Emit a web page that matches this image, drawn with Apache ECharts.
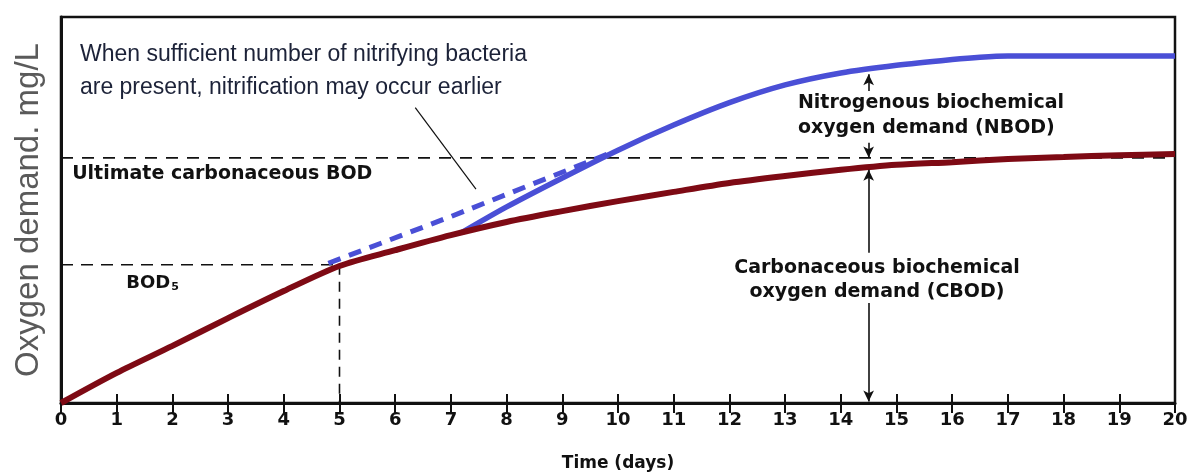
<!DOCTYPE html>
<html>
<head>
<meta charset="utf-8">
<script src="https://cdn.jsdelivr.net/npm/echarts@6/dist/echarts.min.js"></script>
<style>
  html, body { margin: 0; padding: 0; background: #fff; }
  #chart { width: 1187px; height: 472px; }
</style>
</head>
<body>
<div id="chart"></div>
<script>
// Time axis (days) and its tick labels
const days = [0, 1, 2, 3, 4, 5, 6, 7, 8, 9, 10, 11, 12, 13, 14, 15, 16, 17, 18, 19, 20];
const tickLabels = days.map(String);

// Carbonaceous BOD exerted over time (relative oxygen demand)
const cbodValues = [0, 7.8, 14.8, 22.0, 29.0, 35.5, 39.6, 43.5, 46.9, 49.7, 52.3,
                    54.7, 57.0, 58.8, 60.4, 61.7, 62.4, 63.2, 63.7, 64.2, 64.5];

// Total (carbonaceous + nitrogenous) demand once nitrification starts
const nbodDays   = [7.2, 8, 9, 10, 11, 12, 13, 14, 15, 16, 16.5, 17, 18, 19, 20];
const nbodValues = [44.2, 50.8, 58.3, 65.5, 72.0, 77.8, 82.4, 85.5, 87.5, 89.0, 89.6, 89.9, 89.9, 89.9, 89.9];

// Early nitrification path (dashed)
const earlyDays   = [4.8, 7, 9.8];
const earlyValues = [36.2, 48.3, 64.4];

// Reference levels
const ultimateCBOD = 63.5;
const bod5Day = 5;
const bod5Value = 35.8;

const pairs = (xs, ys) => xs.map((x, i) => [x, ys[i]]);

const chart = echarts.init(document.getElementById('chart'), null, { renderer: 'canvas' });

const labelFont = 'DejaVu Sans';
const black = '#111';

const option = {
  animation: false,
  backgroundColor: '#fff',
  grid: {
    left: 61, right: 12, top: 17, bottom: 69,
    containLabel: false, outerBoundsMode: 'none',
    show: true, borderColor: black, borderWidth: 2.5, backgroundColor: 'transparent'
  },
  xAxis: [{
    type: 'value', min: 0, max: 20, interval: 1,
    axisLine: { show: true, onZero: false, lineStyle: { color: black, width: 3 } },
    axisTick: { show: true, inside: true, length: 9, lineStyle: { color: black, width: 2 } },
    axisLabel: {
      margin: 8, fontFamily: labelFont, fontWeight: 'bold', fontSize: 18, color: black,
      formatter: v => tickLabels[v] ?? ''
    },
    splitLine: { show: false },
    name: 'Time (days)', nameLocation: 'middle', nameGap: 52,
    nameTextStyle: { fontFamily: labelFont, fontWeight: 'bold', fontSize: 17, color: black }
  }, {
    type: 'value', min: 0, max: 20, interval: 1, position: 'top',
    axisLine: { show: false },
    axisTick: { show: true, inside: true, length: 10, lineStyle: { color: black, width: 2 } },
    axisLabel: { show: false },
    splitLine: { show: false }
  }],
  yAxis: {
    type: 'value', min: 0, max: 100,
    axisLine: { show: true, lineStyle: { color: black, width: 3 } },
    axisTick: { show: false },
    axisLabel: { show: false },
    splitLine: { show: false },
    name: 'Oxygen demand. mg/L', nameLocation: 'middle', nameGap: 16,
    nameTextStyle: { fontFamily: 'Liberation Sans', fontSize: 33, color: '#5a5a5a' }
  },
  series: [
    {
      name: 'Ultimate carbonaceous BOD', type: 'line', silent: true, symbol: 'none',
      data: [[0, ultimateCBOD], [20, ultimateCBOD]],
      lineStyle: { color: black, width: 1.6, type: [12, 9] }, z: 1
    },
    {
      name: 'BOD5 level', type: 'line', silent: true, symbol: 'none',
      data: [[0, bod5Value], [bod5Day, bod5Value]],
      lineStyle: { color: black, width: 1.6, type: [12, 8] }, z: 1
    },
    {
      name: 'BOD5 day', type: 'line', silent: true, symbol: 'none',
      data: [[bod5Day, bod5Value], [bod5Day, 0]],
      lineStyle: { color: black, width: 1.6, type: [10, 7] }, z: 1
    },
    {
      name: 'Early nitrification', type: 'line', silent: true, symbol: 'none',
      data: pairs(earlyDays, earlyValues),
      lineStyle: { color: '#4a4fd6', width: 5, type: [13, 9] }, z: 3
    },
    {
      name: 'NBOD', type: 'line', silent: true, symbol: 'none', smooth: 0.3,
      data: pairs(nbodDays, nbodValues),
      lineStyle: { color: '#4a4fd6', width: 5.5 }, z: 3
    },
    {
      name: 'CBOD', type: 'line', silent: true, symbol: 'none', smooth: 0.3,
      data: pairs(days, cbodValues),
      lineStyle: { color: '#7e0a14', width: 6 }, z: 4
    },
    {
      name: 'Leader', type: 'line', silent: true, symbol: 'none',
      data: [[6.36, 76.5], [7.45, 55.4]],
      lineStyle: { color: black, width: 1.2 }, z: 2
    },
    {
      name: 'Demand arrows', type: 'line', silent: true, symbol: 'none', data: [],
      markLine: {
        silent: true, symbol: ['none', 'arrow'], symbolSize: [8, 11],
        label: { show: false },
        lineStyle: { color: black, width: 1.6, type: 'solid' },
        data: [
          [{ coord: [14.5, 80.8] }, { coord: [14.5, 85.2] }],
          [{ coord: [14.5, 67.4] }, { coord: [14.5, 63.6] }],
          [{ coord: [14.5, 38.9] }, { coord: [14.5, 60.4] }],
          [{ coord: [14.5, 25.9] }, { coord: [14.5, 0.4] }]
        ]
      }
    }
  ]
};

chart.setOption(option);

// Annotations anchored in data coordinates
function at(x, y) { return chart.convertToPixel({ xAxisIndex: 0, yAxisIndex: 0 }, [x, y]); }

const annoStyle = { fontFamily: labelFont, fontWeight: 'bold', fontSize: 19, fill: black };
const noteStyle = { fontFamily: 'Liberation Sans', fontSize: 23, fill: '#1c2238' };

function textEl(text, pos, style, align) {
  return {
    type: 'text', x: pos[0], y: pos[1], silent: true,
    style: Object.assign({ text: text, align: align || 'left', verticalAlign: 'middle' }, style)
  };
}

const graphics = [
  textEl('When sufficient number of nitrifying bacteria', at(0.34, 90.2), noteStyle),
  textEl('are present, nitrification may occur earlier', at(0.34, 81.6), noteStyle),
  textEl('Ultimate carbonaceous BOD', at(0.2, 59.3), annoStyle),
  {
    type: 'text', silent: true,
    x: at(1.17, 31.1)[0], y: at(1.17, 31.1)[1],
    style: {
      text: '{b|BOD}{s|5}', align: 'left', verticalAlign: 'middle',
      rich: {
        b: { fontFamily: labelFont, fontWeight: 'bold', fontSize: 18, fill: black, color: black },
        s: { fontFamily: labelFont, fontWeight: 'bold', fontSize: 11, fill: black, color: black, padding: [9, 0, 0, 1] }
      }
    }
  },
  textEl('Nitrogenous biochemical', at(13.23, 77.7), annoStyle),
  textEl('oxygen demand (NBOD)', at(13.23, 71.2), annoStyle),
  textEl('Carbonaceous biochemical', at(14.65, 35.0), annoStyle, 'center'),
  textEl('oxygen demand (CBOD)', at(14.65, 28.8), annoStyle, 'center')
];

chart.setOption({ graphic: graphics });
</script>
</body>
</html>
